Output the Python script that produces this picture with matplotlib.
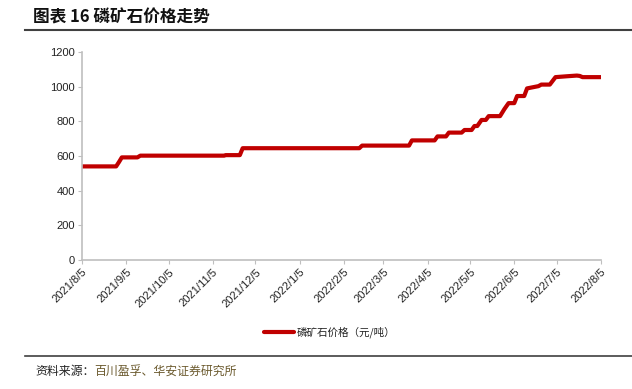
import matplotlib
matplotlib.use("Agg")
import matplotlib.pyplot as plt
import matplotlib.dates as mdates
import pandas as pd
from matplotlib.lines import Line2D

plt.rcParams['font.family'] = ['Liberation Sans', 'Noto Sans CJK SC', 'DejaVu Sans']

# Breakpoints of the price series (date, price 元/吨)
dates = ["2021-08-05", "2021-08-29", "2021-08-31", "2021-09-02", "2021-09-13", "2021-09-15",
         "2021-11-13", "2021-11-14", "2021-11-24", "2021-11-26",
         "2022-02-16", "2022-02-18", "2022-03-23", "2022-03-25",
         "2022-04-10", "2022-04-12", "2022-04-18", "2022-04-20",
         "2022-04-29", "2022-05-01", "2022-05-06", "2022-05-08",
         "2022-05-10", "2022-05-13", "2022-05-16", "2022-05-18",
         "2022-05-26", "2022-05-29", "2022-06-01", "2022-06-05", "2022-06-07",
         "2022-06-12", "2022-06-14", "2022-06-22", "2022-06-24",
         "2022-06-30", "2022-07-04", "2022-07-12", "2022-07-19", "2022-07-21",
         "2022-07-23", "2022-08-05"]
prices = [540, 540, 565, 592, 592, 602,
          602, 605, 605, 645,
          645, 660, 660, 690,
          690, 713, 713, 735,
          735, 750, 750, 773,
          773, 808, 808, 830,
          830, 870, 905, 905, 946,
          946, 990, 1003, 1012,
          1012, 1055, 1060, 1064, 1062,
          1055, 1055]

tick_dates = ["2021-08-05", "2021-09-05", "2021-10-05", "2021-11-05", "2021-12-05",
              "2022-01-05", "2022-02-05", "2022-03-05", "2022-04-05", "2022-05-05",
              "2022-06-05", "2022-07-05", "2022-08-05"]
tick_labels = ["2021/8/5", "2021/9/5", "2021/10/5", "2021/11/5", "2021/12/5",
               "2022/1/5", "2022/2/5", "2022/3/5", "2022/4/5", "2022/5/5",
               "2022/6/5", "2022/7/5", "2022/8/5"]
y_ticks = [0, 200, 400, 600, 800, 1000, 1200]

series_name = "磷矿石价格（元/吨）"
title = "图表 16 磷矿石价格走势"
source_label = "资料来源："
source_text = "百川盈孚、华安证券研究所"

W, H = 632, 389
fig = plt.figure(figsize=(W / 100, H / 100), dpi=100)
ax = fig.add_axes([82 / W, 1 - 260 / H, (601 - 82) / W, (260 - 52) / H])

x = pd.to_datetime(dates)
red = "#C00000"
ax.plot(x, prices, color=red, lw=3.0, solid_capstyle='round', solid_joinstyle='round')

ax.set_ylim(0, 1200)
ax.set_yticks(y_ticks)
ax.set_xlim(pd.Timestamp(tick_dates[0]), pd.Timestamp(tick_dates[-1]))
ax.set_xticks(pd.to_datetime(tick_dates))
ax.set_xticklabels(tick_labels, rotation=45, ha='right', rotation_mode='anchor')

for s in ['top', 'right']:
    ax.spines[s].set_visible(False)
for s in ['left', 'bottom']:
    ax.spines[s].set_color('#BFBFBF')
    ax.spines[s].set_linewidth(1.2)
ax.tick_params(axis='both', colors='#BFBFBF', labelcolor='#222222', labelsize=8, length=3, width=0.8)
ax.tick_params(axis='x', pad=2)
ax.tick_params(axis='y', pad=2)

# Title and rules
fig.text(33 / W, 1 - 18 / H, title, fontsize=12, fontweight='bold',
         family=['Noto Sans CJK SC', 'DejaVu Sans'], va='center', ha='left', color='#111111')
fig.add_artist(Line2D([25 / W, 1.0], [1 - 30 / H, 1 - 30 / H], color='#404040', lw=1.5))
fig.add_artist(Line2D([25 / W, 1.0], [1 - 356 / H, 1 - 356 / H], color='#404040', lw=1.2))

# Legend
fig.add_artist(Line2D([264 / W, 294 / W], [1 - 332 / H, 1 - 332 / H], color=red, lw=3.0,
                      solid_capstyle='round'))
fig.text(297 / W, 1 - 332 / H, series_name, fontsize=7.6, family=['Noto Sans CJK SC'],
         va='center', ha='left', color='#222222')

# Source
t = fig.text(35 / W, 1 - 372 / H, source_label, fontsize=8.6, family=['Noto Sans CJK SC'],
             va='center', ha='left', color='#222222')
fig.canvas.draw()
bb = t.get_window_extent()
fig.text(bb.x1 / W, 1 - 372 / H, source_text, fontsize=8.6, family=['Noto Sans CJK SC'],
         va='center', ha='left', color='#6B5A2E')

fig.savefig("out.png", dpi=100)
